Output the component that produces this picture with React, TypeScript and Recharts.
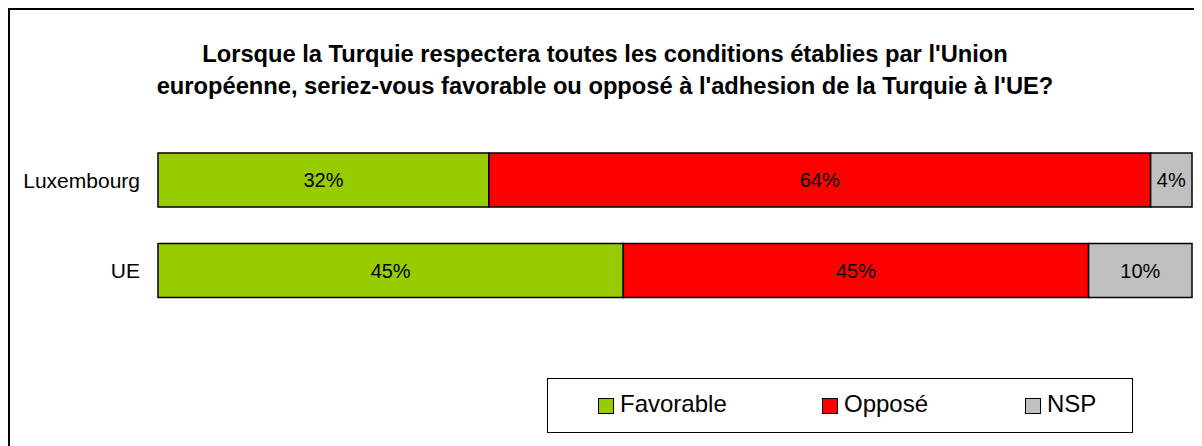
import { BarChart, Bar, XAxis, YAxis, LabelList, Legend } from "recharts";

const categories = ["Luxembourg", "UE"];
const favorable = [32, 45];
const oppose = [64, 45];
const nsp = [4, 10];

const seriesNames = ["Favorable", "Opposé", "NSP"];
const seriesColors = ["#99CC00", "#FF0000", "#C0C0C0"];

const title1 = "Lorsque la Turquie respectera toutes les conditions établies par l'Union";
const title2 = "européenne, seriez-vous favorable ou opposé à l'adhesion de la Turquie à l'UE?";

const data = categories.map((name, i) => ({
  name,
  fav: favorable[i],
  opp: oppose[i],
  nsp: nsp[i],
}));

const font = "'Liberation Sans', Arial, sans-serif";
const pct = (v: any) => `${v}%`;

function LegendBox() {
  return (
    <div
      style={{
        position: "absolute",
        left: 539,
        top: 370,
        width: 586,
        height: 55,
        border: "1px solid #000",
        boxSizing: "border-box",
        fontFamily: font,
        fontSize: 24,
        color: "#000",
      }}
    >
      {seriesNames.map((n, i) => (
        <div
          key={n}
          style={{
            position: "absolute",
            left: [50, 274, 477][i],
            top: 12,
            display: "flex",
            alignItems: "center",
            lineHeight: "26px",
          }}
        >
          <span
            style={{
              display: "inline-block",
              width: 14,
              height: 14,
              background: seriesColors[i],
              border: "1px solid #000",
              marginRight: 6,
              marginTop: 3,
            }}
          />
          {n}
        </div>
      ))}
    </div>
  );
}

export default function App() {
  return (
    <div style={{ position: "relative", width: 1194, height: 438, fontFamily: font }}>
      <div
        style={{
          position: "absolute",
          left: 0,
          top: 0,
          width: 1194,
          height: 438,
          borderLeft: "2px solid #000",
          borderTop: "2px solid #000",
          boxSizing: "border-box",
        }}
      />
      <div
        style={{
          position: "absolute",
          left: 0,
          top: 30,
          width: 1194,
          textAlign: "center",
          fontWeight: "bold",
          fontSize: 23.7,
          lineHeight: "32px",
          color: "#000",
        }}
      >
        <div>{title1}</div>
        <div>{title2}</div>
      </div>
      <div style={{ position: "absolute", left: 0, top: 0 }}>
        <BarChart
          width={1194}
          height={438}
          data={data}
          layout="vertical"
          barSize={54}
          margin={{ top: 127, right: 10, bottom: 130, left: 0 }}
        >
          <XAxis type="number" domain={[0, 100]} hide />
          <YAxis
            type="category"
            dataKey="name"
            width={150}
            axisLine={false}
            tickLine={false}
            tickSize={0}
            tickMargin={18}
            tick={{ fill: "#000", fontSize: 21, fontFamily: font }}
          />
          <Legend content={() => <LegendBox />} wrapperStyle={{ left: 0, top: 0 }} />
          {["fav", "opp", "nsp"].map((k, i) => (
            <Bar
              key={k}
              dataKey={k}
              name={seriesNames[i]}
              stackId="a"
              fill={seriesColors[i]}
              stroke="#000"
              strokeWidth={1.5}
              isAnimationActive={false}
            >
              <LabelList
                dataKey={k}
                position="center"
                formatter={pct}
                style={{ fill: "#000", fontSize: 20, fontFamily: font, stroke: "none" }}
              />
            </Bar>
          ))}
        </BarChart>
      </div>
    </div>
  );
}
